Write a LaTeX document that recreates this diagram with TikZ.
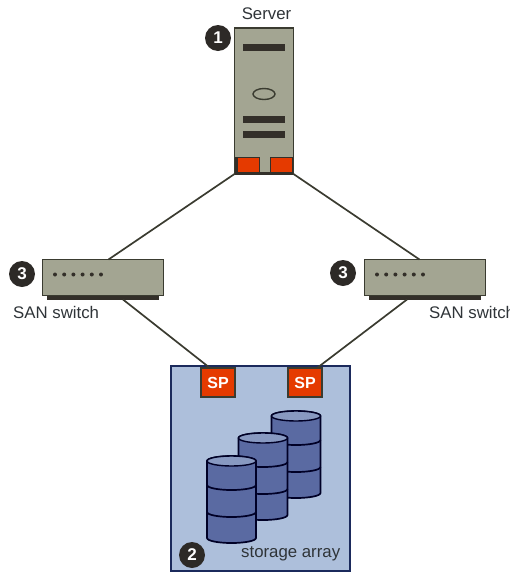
\documentclass[tikz,border=0pt]{standalone}
\usepackage{fontspec}
\setmainfont{Liberation Sans}
\definecolor{bodygray}{HTML}{A3A592}
\definecolor{darkedge}{HTML}{3A3B30}
\definecolor{hbared}{HTML}{E53A00}
\definecolor{arrayfill}{HTML}{ADBFDB}
\definecolor{arrayedge}{HTML}{1B2A5C}
\definecolor{drumfill}{HTML}{5A6AA2}
\definecolor{txt}{HTML}{2F3438}
\tikzset{
  box/.style={draw=darkedge,line width=1.8pt,fill=bodygray,inner sep=0pt,outer sep=0pt,anchor=north west},
  link/.style={draw=darkedge,line width=1.7pt},
  badge/.style={circle,fill=black!90!olive,text=white,inner sep=0pt,minimum size=26pt,font=\fontsize{17}{17}\selectfont\bfseries},
  label/.style={text=txt,inner sep=0pt,font=\fontsize{16.8}{18}\selectfont},
  redport/.style={fill=hbared,draw=none,inner sep=0pt,outer sep=0pt,anchor=north west},
  spbox/.style={fill=hbared,draw=darkedge,line width=1.5pt,text=white,inner sep=0pt,outer sep=0pt,anchor=north west,minimum width=34pt,minimum height=29pt,font=\fontsize{16}{16}\selectfont\bfseries},
  blackbar/.style={fill=black!85!olive,draw=none},
  drumline/.style={draw=black!85!blue,line width=1.7pt},
}
\newcommand{\drum}[3]{% x-left, y-top-center, y-bottom-of-body
  \pgfmathsetmacro{\xr}{#1+49}
  \pgfmathsetmacro{\xm}{#1+24.5}
  \pgfmathsetmacro{\yA}{#2+24}
  \pgfmathsetmacro{\yB}{#2+51}
  \draw[fill=drumfill,drumline]
    (#1,#2) -- (#1,#3) arc[start angle=180,end angle=360,x radius=24.5pt,y radius=5pt] -- (\xr,#2)
    arc[start angle=0,end angle=180,x radius=24.5pt,y radius=5pt] -- cycle;
  \draw[drumline] (#1,\yA) arc[start angle=180,end angle=360,x radius=24.5pt,y radius=5pt];
  \draw[drumline] (#1,\yB) arc[start angle=180,end angle=360,x radius=24.5pt,y radius=5pt];
  \draw[fill=arrayfill!55!drumfill,drumline,line width=1.4pt] (\xm,#2) ellipse[x radius=24.5pt,y radius=5pt];
}
\begin{document}
\begin{tikzpicture}[x=1pt,y=-1pt]
\useasboundingbox (0,0) rectangle (510,574);
% storage array
\node[draw=arrayedge,line width=1.5pt,fill=arrayfill,inner sep=0pt,outer sep=0pt,anchor=north west,minimum width=179pt,minimum height=205pt] (array) at (171,366) {};
% server
\node[box,minimum width=59pt,minimum height=146pt] (server) at (234.5,28) {};
\fill[blackbar] (235,157) rectangle (293,174.5);
\fill[bodygray] (259.5,157) rectangle (269.5,172);
\node[redport,minimum width=21pt,minimum height=14pt] (portL) at (238,158) {};
\node[redport,minimum width=21pt,minimum height=14pt] (portR) at (270.5,158) {};
\fill[blackbar] (243,43.5) rectangle (285,51);
\fill[blackbar] (243,116) rectangle (285,123);
\fill[blackbar] (243,131) rectangle (285,137.5);
\draw[draw=darkedge,line width=1.4pt] (264,94) ellipse[x radius=11pt,y radius=5.5pt];
\node[label] (servertxt) at (266.5,14) {Server};
\node[badge] (b1) at (218,38) {1};
% switches
\fill[blackbar] (47,294) rectangle (159,299.5);
\fill[blackbar] (369,294) rectangle (481,299.5);
\node[box,minimum width=121pt,minimum height=36pt] (swL) at (42.5,259.5) {};
\node[box,minimum width=121pt,minimum height=36pt] (swR) at (364.5,259.5) {};
\foreach \i in {0,...,5}{
  \fill[black!85!olive] (55+9.2*\i,274.5) circle[radius=2pt];
  \fill[black!85!olive] (377+9.2*\i,274.5) circle[radius=2pt];
}
\node[badge] (b3L) at (22,274) {3};
\node[badge] (b3R) at (343,273) {3};
\node[label,anchor=west] (swLtxt) at (13,312) {SAN switch};
\node[label,anchor=west] (swRtxt) at (429,312) {SAN switch};
% SP boxes
\node[spbox] (spL) at (201,368) {SP};
\node[spbox] (spR) at (288,368) {SP};
% drums
\drum{271.5}{416}{493}
\drum{238.5}{438}{515}
\drum{207}{461}{538}
\node[badge] (b2) at (192,555) {2};
\node[label,anchor=west] (arraytxt) at (241,554) {storage array};
% connectors
\draw[link] (server.south west) -- ([xshift=5.5pt]swL.north);
\draw[link] (server.south east) -- ([xshift=-5.5pt]swR.north);
\draw[link] ([xshift=20pt,yshift=-4pt]swL.south) -- ([xshift=-8pt]spL.north);
\draw[link] ([xshift=-18pt,yshift=-4pt]swR.south) -- ([xshift=12pt]spR.north);
\end{tikzpicture}
\end{document}
